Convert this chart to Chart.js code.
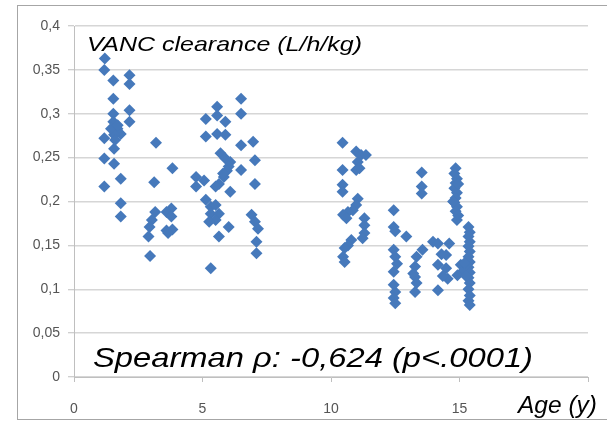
<!DOCTYPE html>
<html>
<head>
<meta charset="utf-8">
<script src="https://cdn.jsdelivr.net/npm/chart.js@4"></script>
<style>
  html, body { margin: 0; padding: 0; background: #ffffff; }
  #wrap { width: 607px; height: 424px; position: relative; }
</style>
</head>
<body>
<div id="wrap"><canvas id="c" width="607" height="424"></canvas></div>
<script>
// Age (years) of each patient
const ages = [
  1.20, 1.18, 1.18, 1.18, 1.18,
  1.53, 1.53, 1.53, 1.53, 1.69, 1.82, 1.56, 1.44, 1.56, 1.56, 1.60, 1.70,
  1.82, 1.82, 1.82,
  2.16, 2.16, 2.16, 2.16,
  3.19, 3.83, 3.12, 3.16, 3.03, 2.94, 2.90, 3.79, 3.60, 3.79, 3.60, 3.83, 3.66, 2.96,
  6.50, 6.50, 5.57, 5.13, 5.57, 5.89, 5.13, 5.57, 5.89, 6.50, 6.97, 5.70, 5.89, 6.08,
  6.02, 6.50, 7.04, 4.75, 5.06, 4.75, 5.83, 5.64, 5.51, 7.04, 6.08, 5.13, 5.32, 5.51,
  5.32, 5.64, 5.51, 5.26, 6.02, 5.64, 6.91, 7.04, 7.16, 7.10, 7.10, 5.32, 5.95, 5.80,
  10.45, 10.98, 11.17, 11.36, 11.04, 10.98, 11.11, 10.45, 10.45, 10.45, 11.04, 10.98,
  10.85, 10.66, 10.47, 10.60, 11.30, 11.30, 11.30, 11.23, 10.79, 10.66, 10.53, 10.47, 10.53,
  13.53, 13.53, 13.53, 12.44, 12.44, 12.50, 12.93, 12.44, 12.50, 12.57, 12.44, 12.44,
  12.50, 12.44, 12.50, 13.56, 13.33, 13.27, 13.27, 13.33, 13.27, 13.97, 13.20,
  14.16, 14.16, 14.16, 14.60, 14.48, 14.48, 14.54, 15.05, 15.11, 14.92, 14.30, 14.35,
  14.85, 14.80, 14.90, 14.85, 14.80, 14.90, 14.85, 14.80, 14.90, 14.85, 14.95, 14.90, 14.75, 14.95,
  15.35, 15.40, 15.35, 15.40, 15.35, 15.40, 15.35, 15.40, 15.35, 15.40, 15.35, 15.40,
  15.35, 15.40, 15.35, 15.40, 15.20, 15.25
];
// VANC clearance (L/h/kg), same order as ages
const clearance = [
  0.363, 0.350, 0.272, 0.249, 0.217,
  0.338, 0.317, 0.300, 0.291, 0.283, 0.277, 0.276, 0.283, 0.260, 0.243, 0.270, 0.287,
  0.226, 0.198, 0.183,
  0.344, 0.334, 0.304, 0.291,
  0.267, 0.238, 0.222, 0.188, 0.179, 0.171, 0.160, 0.192, 0.188, 0.183, 0.167, 0.168, 0.164, 0.138,
  0.317, 0.300, 0.308, 0.294, 0.298, 0.291, 0.274, 0.277, 0.276, 0.264, 0.268, 0.255, 0.249, 0.245,
  0.240, 0.236, 0.247, 0.228, 0.224, 0.217, 0.228, 0.220, 0.217, 0.220, 0.211, 0.202, 0.194, 0.196,
  0.186, 0.186, 0.179, 0.177, 0.171, 0.160, 0.185, 0.177, 0.169, 0.154, 0.141, 0.124, 0.235, 0.232,
  0.267, 0.257, 0.253, 0.253, 0.245, 0.236, 0.238, 0.236, 0.219, 0.211, 0.203, 0.196,
  0.190, 0.188, 0.185, 0.181, 0.181, 0.173, 0.164, 0.158, 0.156, 0.150, 0.147, 0.137, 0.131,
  0.233, 0.217, 0.209, 0.190, 0.171, 0.166, 0.160, 0.145, 0.137, 0.129, 0.120, 0.105,
  0.097, 0.090, 0.084, 0.145, 0.137, 0.126, 0.114, 0.107, 0.097, 0.154, 0.118,
  0.152, 0.128, 0.099, 0.152, 0.139, 0.124, 0.112, 0.128, 0.120, 0.116, 0.140, 0.115,
  0.238, 0.232, 0.226, 0.221, 0.215, 0.210, 0.204, 0.199, 0.194, 0.189, 0.184, 0.179, 0.200, 0.220,
  0.171, 0.165, 0.160, 0.154, 0.149, 0.143, 0.137, 0.131, 0.125, 0.119, 0.113, 0.107,
  0.100, 0.093, 0.087, 0.082, 0.130, 0.115
];
const xTicks = [0, 5, 10, 15];
const yTicks = [0, 0.05, 0.1, 0.15, 0.2, 0.25, 0.3, 0.35, 0.4];
const yTitle = 'VANC clearance (L/h/kg)';
const xTitle = 'Age (y)';
const statText = 'Spearman \u03c1: -0,624 (p<.0001)';

const points = ages.map((a, i) => ({ x: a, y: clearance[i] }));

function stretchedText(ctx, text, x, y, font, width) {
  ctx.save();
  ctx.font = font;
  const w = ctx.measureText(text).width;
  ctx.translate(x, y);
  ctx.scale(width / w, 1);
  ctx.fillText(text, 0, 0);
  ctx.restore();
}

const frameAndText = {
  id: 'frameAndText',
  beforeDraw(chart) {
    const ctx = chart.ctx;
    ctx.save();
    ctx.fillStyle = '#ffffff';
    ctx.fillRect(0, 0, chart.width, chart.height);
    ctx.strokeStyle = '#a6a6a6';
    ctx.lineWidth = 1;
    ctx.strokeRect(17.5, 5.5, 620, 414);
    ctx.restore();
  },
  afterDraw(chart) {
    const ctx = chart.ctx;
    ctx.save();
    ctx.fillStyle = '#000000';
    ctx.textBaseline = 'alphabetic';
    ctx.textAlign = 'left';
    stretchedText(ctx, yTitle, 87, 51, 'italic 21px "Liberation Sans", Arial, sans-serif', 275);
    stretchedText(ctx, statText, 93, 367, 'italic 28px "Liberation Sans", Arial, sans-serif', 440);
    stretchedText(ctx, xTitle, 518, 413, 'italic 24px "Liberation Sans", Arial, sans-serif', 79);
    ctx.restore();
  }
};

new Chart(document.getElementById('c'), {
  type: 'scatter',
  data: {
    datasets: [{
      data: points,
      pointStyle: 'rectRot',
      pointRadius: 6,
      pointHoverRadius: 6,
      backgroundColor: '#4679bb',
      borderColor: '#4679bb',
      borderWidth: 0
    }]
  },
  options: {
    responsive: false,
    animation: false,
    events: [],
    layout: { padding: { left: 0, right: 10, top: 26, bottom: 0 } },
    plugins: { legend: { display: false }, tooltip: { enabled: false } },
    scales: {
      x: {
        type: 'linear',
        min: 0, max: 20,
        afterFit(s) { s.height = 47; },
        afterBuildTicks(s) { s.ticks = xTicks.concat([20]).map(v => ({ value: v })); },
        ticks: {
          color: '#555555',
          font: { family: '"Liberation Sans", Arial, sans-serif', size: 14 },
          padding: 19,
          maxRotation: 0,
          callback: v => (v === 20 ? '' : String(v))
        },
        grid: { drawOnChartArea: false, drawTicks: true, tickLength: 5, color: '#bfbfbf' },
        border: { display: true, color: '#bfbfbf', width: 1 }
      },
      y: {
        type: 'linear',
        min: 0, max: 0.4,
        afterFit(s) { s.width = 74; },
        afterBuildTicks(s) { s.ticks = yTicks.map(v => ({ value: v })); },
        ticks: {
          color: '#555555',
          font: { family: '"Liberation Sans", Arial, sans-serif', size: 14 },
          padding: 8,
          callback: v => String(Math.round(v * 100) / 100).replace('.', ',')
        },
        grid: { color: '#d6d6d6', lineWidth: 1.5, drawTicks: true, tickLength: 6, tickColor: '#bfbfbf', tickWidth: 1 },
        border: { display: true, color: '#bfbfbf', width: 1 }
      }
    }
  },
  plugins: [frameAndText]
});
</script>
</body>
</html>
